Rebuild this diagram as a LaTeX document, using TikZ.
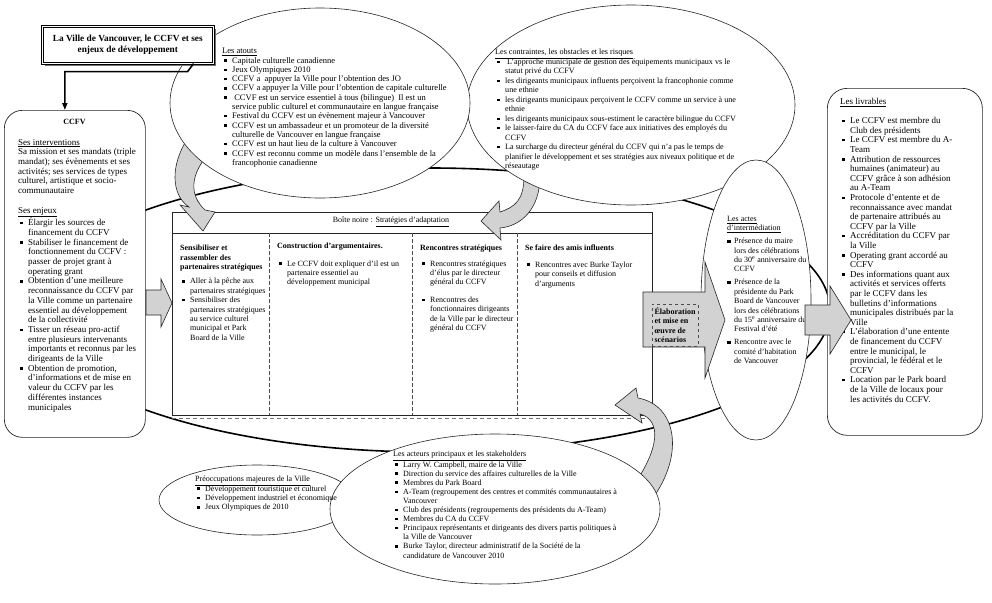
\documentclass[tikz,border=0pt]{standalone}
\usepackage{fontspec}
\setmainfont{Liberation Serif}
\usetikzlibrary{shapes.geometric,arrows.meta,shadows,positioning}

\newcommand\bul{\hspace*{2pt}\makebox[8pt][l]{\rule[1.4pt]{2.4pt}{2.4pt}}}
\newcommand\ind{\hspace*{10pt}}
\newcommand\blk{\makebox[7pt][l]{\rule[0.6pt]{3.6pt}{3.6pt}}}
\newcommand\bind{\hspace*{7pt}}

\tikzset{
  txt/.style={anchor=north west, inner sep=0pt, align=left, font=\fontsize{8}{9.4}\selectfont},
  blob/.style={ellipse, draw=black!85, fill=white, inner sep=0pt, line width=0.6pt},
  cadre/.style={draw=black!85, fill=white, line width=0.7pt, inner sep=0pt},
  garrow/.style={draw=black!85, fill=gray!35, line width=0.6pt, line join=miter},
  lien/.style={line width=1.6pt, -{Triangle[length=7pt,width=5pt]}},
}

\begin{document}
\begin{tikzpicture}[x=1pt,y=-1pt]
  \useasboundingbox (0,0) rectangle (992,602);

  % anneau du fond
  \node[ellipse, draw, line width=1.6pt, inner sep=0pt, minimum width=800pt, minimum height=284pt] (anneau) at (430,310) {};

  % boite noire
  \node[cadre, anchor=north west, minimum width=480pt, minimum height=203pt] (noire) at (172,212) {};
  \draw[black!85, line width=0.6pt] (172,233) -- (652,233);
  \draw[black!55, dash pattern=on 4pt off 3pt, line width=0.7pt] (172,418) -- (652,418);
  \foreach \x in {269,412,517}
    \draw[black!70, dash pattern=on 4pt off 2pt, line width=0.6pt] (\x,233) -- (\x,415);
  \node[txt, anchor=center] (noireT) at (391,222) {Boîte noire : \underline{Stratégies d’adaptation}};

  \node[txt] (col1) at (180,245) {\textbf{Sensibiliser et}\\\textbf{rassembler des}\\\textbf{partenaires stratégiques}\\[5pt]
    \bul Aller à la pêche aux\\\ind partenaires stratégiques\\
    \bul Sensibiliser des\\\ind partenaires stratégiques\\\ind au service culturel\\\ind municipal et Park\\\ind Board de la Ville};
  \node[txt] (col2) at (277,243) {\textbf{Construction d’argumentaires.}\\[8pt]
    \bul Le CCFV doit expliquer d’il est un\\\ind partenaire essentiel au\\\ind développement municipal};
  \node[txt] (col3) at (420,245) {\textbf{Rencontres stratégiques}\\[6pt]
    \bul Rencontres stratégiques\\\ind d’élus par le directeur\\\ind général du CCFV\\[8pt]
    \bul Rencontres des\\\ind fonctionnaires dirigeants\\\ind de la Ville par le directeur\\\ind général du CCFV};
  \node[txt] (col4) at (525,245) {\textbf{Se faire des amis influents}\\[7pt]
    \bul Rencontres avec Burke Taylor\\\ind pour conseils et diffusion\\\ind d’arguments};

  % fleches courbes (sous les ellipses)
  \draw[garrow] (188,138) .. controls (170,165) and (171,195) .. (189,207) -- (180,205) -- (203,231)
    -- (215,212) -- (205,210) .. controls (190,196) and (188,175) .. (212,150) -- cycle;
  \draw[garrow] (524,176) .. controls (524,200) and (515,207) .. (500,212) -- (499,201) -- (481,221)
    -- (501,240) -- (500,228) .. controls (522,226) and (540,208) .. (540,176) -- cycle;
  \draw[garrow] (640,414) .. controls (662,420) and (660,450) .. (630,490) -- (655,495)
    .. controls (684,452) and (676,405) .. (638,398) -- (636,388) -- (615,405) -- (642,423) -- cycle;

  % CCFV
  \node[cadre, rounded corners=18pt, anchor=north west, minimum width=141pt, minimum height=327pt] (ccfv) at (4,110) {};
  \node[txt, anchor=center, font=\bfseries\fontsize{8}{9.4}\selectfont] (ccfvT) at (74.5,122) {CCFV};
  \node[txt, font=\fontsize{9}{9.7}\selectfont] (ccfvD) at (18,139) {\underline{Ses interventions}\\
    Sa mission et ses mandats (triple\\
    mandat); ses évènements et ses\\
    activités; ses services de types\\
    culturel, artistique et socio-\\
    communautaire\\[9.7pt]
    \underline{Ses enjeux}\\
    \bul Élargir les sources de\\\ind financement du CCFV\\
    \bul Stabiliser le financement de\\\ind fonctionnement du CCFV :\\\ind passer de projet grant à\\\ind operating grant\\
    \bul Obtention d’une meilleure\\\ind reconnaissance du CCFV par\\\ind la Ville comme un partenaire\\\ind essentiel au développement\\\ind de la collectivité\\
    \bul Tisser un réseau pro-actif\\\ind entre plusieurs intervenants\\\ind importants et reconnus par les\\\ind dirigeants de la Ville\\
    \bul Obtention de promotion,\\\ind d’informations et de mise en\\\ind valeur du CCFV par les\\\ind différentes instances\\\ind municipales};
  \draw[garrow] (146,290) -- (161,290) -- (161,279) -- (172,303) -- (161,327) -- (161,315) -- (146,315) -- cycle;

  % livrables
  \node[cadre, rounded corners=20pt, anchor=north west, minimum width=155pt, minimum height=347pt] (livr) at (827,88) {};
  \node[txt, font=\fontsize{9}{9.6}\selectfont] (livrD) at (840,98) {\underline{Les livrables}\\[9.6pt]
    \bul Le CCFV est membre du\\\ind Club des présidents\\
    \bul Le CCFV est membre du A-\\\ind Team\\
    \bul Attribution de ressources\\\ind humaines (animateur) au\\\ind CCFV grâce à son adhésion\\\ind au A-Team\\
    \bul Protocole d’entente et de\\\ind reconnaissance avec mandat\\\ind de partenaire attribués au\\\ind CCFV par la Ville\\
    \bul Accréditation du CCFV par\\\ind la Ville\\
    \bul Operating grant accordé au\\\ind CCFV\\
    \bul Des informations quant aux\\\ind activités et services offerts\\\ind par le CCFV dans les\\\ind bulletins d’informations\\\ind municipales distribués par la\\\ind Ville\\
    \bul L’élaboration d’une entente\\\ind de financement du CCFV\\\ind entre le municipal, le\\\ind provincial, le fédéral et le\\\ind CCFV\\
    \bul Location par le Park board\\\ind de la Ville de locaux pour\\\ind les activités du CCFV.};

  % ellipses du haut
  \node[blob, minimum width=328pt, minimum height=200pt] (contr) at (631,105) {};
  \node[blob, minimum width=300pt, minimum height=190pt] (atouts) at (320,103) {};
  \node[txt, font=\fontsize{8.5}{9.3}\selectfont] (atoutsD) at (222,48) {\underline{Les atouts}\\
    \bul Capitale culturelle canadienne\\
    \bul Jeux Olympiques 2010\\
    \bul CCFV a\ \ appuyer la Ville pour l’obtention des JO\\
    \bul CCFV a appuyer la Ville pour l’obtention de capitale culturelle\\
    \bul\ CCVF est un service essentiel à tous (bilingue)\ \ Il est un\\
    \ind service public culturel et communautaire en langue française\\
    \bul Festival du CCFV est un évènement majeur à Vancouver\\
    \bul CCFV est un ambassadeur et un promoteur de la diversité\\
    \ind culturelle de Vancouver en langue française\\
    \bul CCFV est un haut lieu de la culture à Vancouver\\
    \bul CCFV est reconnu comme un modèle dans l’ensemble de la\\
    \ind francophonie canadienne};
  \node[txt, font=\fontsize{8.1}{9.5}\selectfont] (contrD) at (495,49) {\underline{Les contraintes, les obstacles et les risques}\\
    \bul\ L’approche municipale de gestion des équipements municipaux vs le\\
    \ind statut privé du CCFV\\
    \bul les dirigeants municipaux influents perçoivent la francophonie comme\\
    \ind une ethnie\\
    \bul les dirigeants municipaux perçoivent le CCFV comme un service à une\\
    \ind ethnie\\
    \bul les dirigeants municipaux sous-estiment le caractère bilingue du CCFV\\
    \bul le laisser-faire du CA du CCFV face aux initiatives des employés du\\
    \ind CCFV\\
    \bul La surcharge du directeur général du CCFV qui n’a pas le temps de\\
    \ind planifier le développement et ses stratégies aux niveaux politique et de\\
    \ind réseautage};

  % actes d'intermediation
  \node[blob, minimum width=110pt, minimum height=280pt] (actes) at (756,300) {};
  \node[txt] (actesD) at (727,216) {\underline{Les actes}\\\underline{d’intermédiation}\\[3.5pt]
    \blk Présence du maire\\\bind lors des célébrations\\\bind du 30\textsuperscript{e} anniversaire du\\\bind CCFV\\[3.5pt]
    \blk Présence de la\\\bind présidente du Park\\\bind Board de Vancouver\\\bind lors des célébrations\\\bind du 15\textsuperscript{e} anniversaire du\\\bind Festival d’été\\[3.5pt]
    \blk Rencontre avec le\\\bind comité d’habitation\\\bind de Vancouver};

  % fleches pleines
  \draw[garrow] (643,292) -- (705,292) -- (705,262) -- (725,320) -- (705,378) -- (705,347) -- (643,347) -- cycle;
  \node[txt, anchor=center, draw=black!70, dashed, line width=0.5pt, inner sep=2pt, minimum width=46pt, minimum height=42pt,
    font=\bfseries\fontsize{8}{9.4}\selectfont] (scen) at (675,325) {Élaboration\\et mise en\\œuvre de\\scénarios};
  \draw[garrow] (805,305) -- (830,305) -- (830,286) -- (851,320) -- (830,354) -- (830,335) -- (805,335) -- cycle;

  % ellipses du bas
  \node[blob, minimum width=196pt, minimum height=70pt] (preoc) at (257,500) {};
  \node[blob, minimum width=330pt, minimum height=150pt] (acteurs) at (495,509) {};
  \node[txt] (preocD) at (195,476) {\underline{Préoccupations majeures de la Ville}\\
    \bul Développement touristique et culturel\\
    \bul Développement industriel et économique\\
    \bul Jeux Olympiques de 2010};
  \node[txt, font=\fontsize{8}{9.1}\selectfont] (acteursD) at (393,451) {\underline{Les acteurs principaux et les stakeholders}\\
    \bul Larry W. Campbell, maire de la Ville\\
    \bul Direction du service des affaires culturelles de la Ville\\
    \bul Membres du Park Board\\
    \bul A-Team (regroupement des centres et commités communautaires à\\\ind Vancouver\\
    \bul Club des présidents (regroupements des présidents du A-Team)\\
    \bul Membres du CA du CCFV\\
    \bul Principaux représentants et dirigeants des divers partis politiques à\\\ind la Ville de Vancouver\\
    \bul Burke Taylor, directeur administratif de la Société de la\\\ind candidature de Vancouver 2010};

  % titre
  \node[draw, double, double distance=1.5pt, line width=0.6pt, fill=white, inner sep=0pt,
    drop shadow={opacity=1, fill=black!55, shadow xshift=2.5pt, shadow yshift=-2.5pt},
    minimum width=171pt, minimum height=37pt, anchor=north west, align=center,
    font=\bfseries\fontsize{9.3}{11.5}\selectfont] (titre) at (42,26) {La Ville de Vancouver, le CCFV et ses\\enjeux de développement};
  \draw[lien] ([xshift=-20pt]titre.south east) -- ++(-6,8) -| ([xshift=-10pt]ccfv.north);
\end{tikzpicture}
\end{document}
